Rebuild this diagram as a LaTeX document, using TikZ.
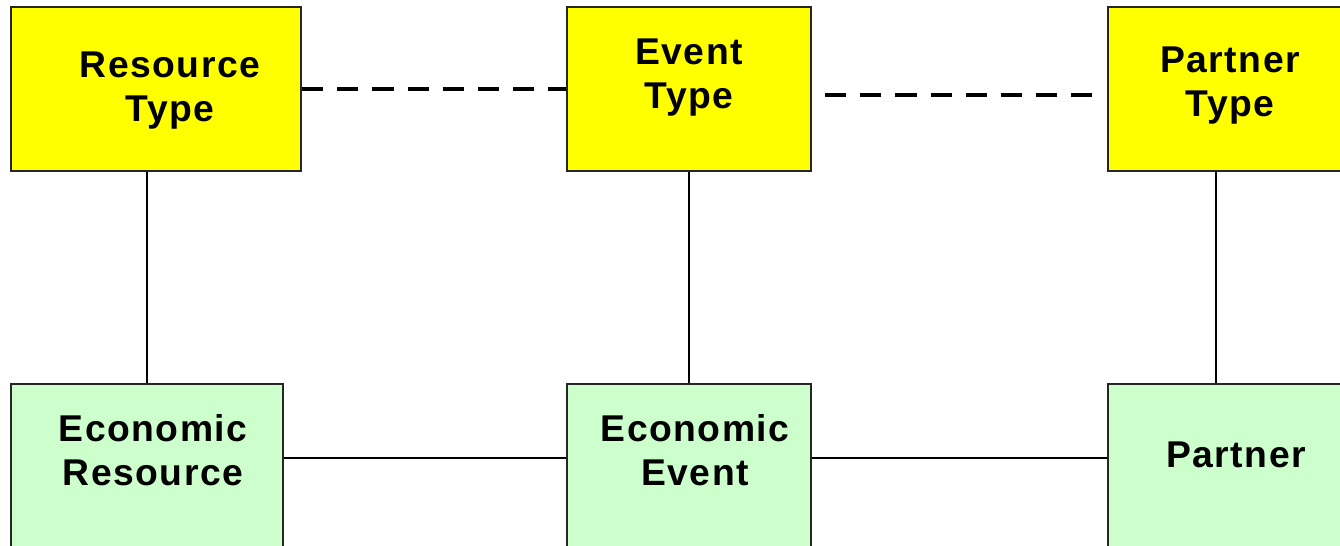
\documentclass[tikz,border=0pt]{standalone}
\usepackage{fontspec}
\setmainfont{Liberation Sans}[LetterSpace=4]
\usetikzlibrary{calc}
\definecolor{typeyellow}{HTML}{FFFF00}
\definecolor{ecogreen}{HTML}{CCFFCC}
\tikzset{
	typebox/.style={draw=black!85, line width=0.6pt, fill=typeyellow, inner sep=0pt},
	ecobox/.style={draw=black!85, line width=0.6pt, fill=ecogreen, inner sep=0pt},
	boxtext/.style={align=center, font=\bfseries\fontsize{10.6}{12.5}\selectfont, inner sep=0pt},
	link/.style={line width=0.45pt, color=black},
	typelink/.style={line width=1.3pt, dash pattern=on 6pt off 4pt}
}

\begin{document}
\begin{tikzpicture}[x=0.01cm, y=-0.01cm]
			%%%%% START %%%%%
			\useasboundingbox (0, 0) rectangle (1340, 546);
			\clip (0, 0) rectangle (1340, 546);
			
			% type level
			\node[typebox, minimum width=2.9cm, minimum height=1.64cm] (rt) at (156, 89) {};
			\node[typebox, minimum width=2.44cm, minimum height=1.64cm] (et) at (689, 89) {};
			\node[typebox, minimum width=2.92cm, minimum height=1.64cm] (pt) at (1254, 89) {};
			
			% economic level
			\node[ecobox, minimum width=2.72cm, minimum height=1.76cm] (er) at (147, 472) {};
			\node[ecobox, minimum width=2.44cm, minimum height=1.76cm] (ee) at (689, 472) {};
			\node[ecobox, minimum width=2.92cm, minimum height=1.76cm] (pa) at (1254, 472) {};
			
			\node[boxtext] (rtText) at (170, 91) {Resource\\Type};
			\node[boxtext] (etText) at (689, 78) {Event\\Type};
			\node[boxtext] (ptText) at (1230, 86) {Partner\\Type};
			\node[boxtext] (erText) at (153, 450) {Economic\\Resource};
			\node[boxtext] (eeText) at (695, 450) {Economic\\Event};
			\node[boxtext] (paText) at (1236, 455) {Partner};
			
			% dashed links between types
			\draw[typelink] (rt.east) -- (et.west);
			\draw[typelink] ($(et.east)+(13, 6)$) -- ($(pt.west)+(-15, 6)$);
			
			% type to economic
			\draw[link] (er.north) -- (er.north |- rt.south);
			\draw[link] (ee.north) -- (et.south);
			\draw[link] ($(pa.north)+(-38, 0)$) -- ($(pt.south)+(-38, 0)$);
			
			% economic links
			\draw[link] ($(er.north east)+(0, 75)$) -- ($(ee.north west)+(0, 75)$);
			\draw[link] ($(ee.north east)+(0, 75)$) -- ($(pa.north west)+(0, 75)$);
			%%%%% END %%%%%
\end{tikzpicture}
\end{document}
